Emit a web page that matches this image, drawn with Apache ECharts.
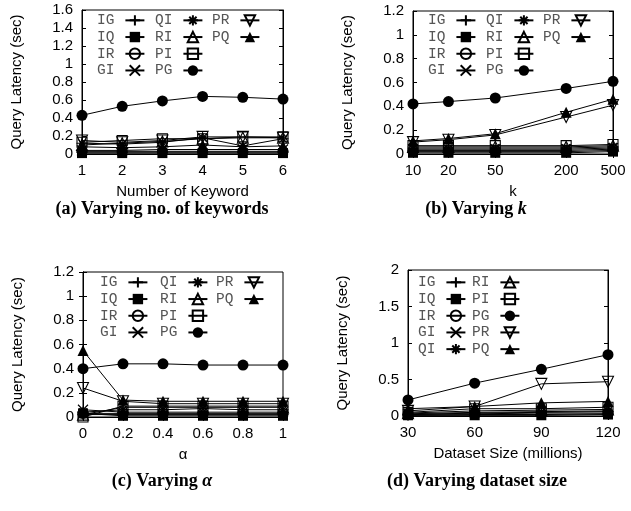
<!DOCTYPE html>
<html>
<head>
<meta charset="utf-8">
<script src="https://cdn.jsdelivr.net/npm/echarts@6/dist/echarts.min.js"></script>
<style>
html,body{margin:0;padding:0;background:#fff;}
#chart{width:631px;height:511px;}
</style>
</head>
<body>
<div id="chart"></div>
<script>
// ---------- data ----------
const seriesNames = ['IG','IQ','IR','GI','QI','RI','PI','PG','PR','PQ'];

// (a) Varying number of keywords
const keywordCounts = [1, 2, 3, 4, 5, 6];
const kwIG = [0.02, 0.02, 0.02, 0.02, 0.02, 0.02];
const kwIQ = [0.01, 0.01, 0.01, 0.01, 0.01, 0.01];
const kwIR = [0.03, 0.03, 0.03, 0.03, 0.03, 0.03];
const kwGI = [0.04, 0.04, 0.05, 0.05, 0.05, 0.05];
const kwQI = [0.12, 0.11, 0.13, 0.18, 0.09, 0.17];
const kwRI = [0.10, 0.12, 0.14, 0.17, 0.18, 0.18];
const kwPI = [0.13, 0.15, 0.17, 0.17, 0.19, 0.19];
const kwPG = [0.43, 0.53, 0.59, 0.64, 0.63, 0.61];
const kwPR = [0.15, 0.13, 0.15, 0.19, 0.19, 0.18];
const kwPQ = [0.08, 0.07, 0.08, 0.10, 0.08, 0.09];

// (b) Varying k
const kValues = [10, 20, 50, 200, 500];
const kIG = [0.02, 0.02, 0.02, 0.02, 0.03];
const kIQ = [0.01, 0.01, 0.01, 0.01, 0.02];
const kIR = [0.03, 0.03, 0.03, 0.03, 0.04];
const kGI = [0.04, 0.04, 0.04, 0.04, 0.05];
const kQI = [0.05, 0.05, 0.05, 0.05, 0.06];
const kRI = [0.06, 0.06, 0.06, 0.06, 0.07];
const kPI = [0.07, 0.07, 0.07, 0.07, 0.08];
const kPG = [0.42, 0.44, 0.47, 0.55, 0.61];
const kPR = [0.10, 0.12, 0.16, 0.31, 0.41];
const kPQ = [0.11, 0.13, 0.17, 0.35, 0.46];
const kTicks = [10, 20, 50, 200, 500];

// (c) Varying alpha
const alphaValues = [0, 0.2, 0.4, 0.6, 0.8, 1];
const alIG = [0.02, 0.02, 0.02, 0.02, 0.02, 0.02];
const alIQ = [0.03, 0.01, 0.01, 0.01, 0.01, 0.01];
const alIR = [0.03, 0.03, 0.03, 0.03, 0.03, 0.03];
const alGI = [0.06, 0.04, 0.04, 0.04, 0.04, 0.04];
const alQI = [0.04, 0.06, 0.06, 0.07, 0.06, 0.06];
const alRI = [0.02, 0.08, 0.08, 0.08, 0.08, 0.08];
const alPI = [0.00, 0.09, 0.09, 0.09, 0.09, 0.09];
const alPG = [0.40, 0.44, 0.44, 0.43, 0.43, 0.43];
const alPR = [0.24, 0.13, 0.11, 0.11, 0.11, 0.11];
const alPQ = [0.55, 0.14, 0.13, 0.13, 0.13, 0.13];

// (d) Varying dataset size (millions)
const datasetSizes = [30, 60, 90, 120];
const dsIG = [0.01, 0.02, 0.02, 0.03];
const dsIQ = [0.01, 0.01, 0.01, 0.02];
const dsIR = [0.02, 0.03, 0.04, 0.04];
const dsGI = [0.03, 0.05, 0.06, 0.07];
const dsQI = [0.02, 0.04, 0.05, 0.06];
const dsRI = [0.04, 0.07, 0.08, 0.09];
const dsPI = [0.05, 0.10, 0.10, 0.12];
const dsPG = [0.22, 0.45, 0.64, 0.84];
const dsPR = [0.07, 0.13, 0.44, 0.47];
const dsPQ = [0.10, 0.13, 0.18, 0.20];

// ---------- styling ----------
const SANS = 'Liberation Sans';
const MONO = 'Liberation Mono';
const SERIF = 'Liberation Serif';

const STROKE = {color:'#000', borderColor:'#000', borderWidth:1.1};
const OPEN = {color:'rgba(255,255,255,0)', borderColor:'#000', borderWidth:1.1};
const FILLED = {color:'#000', borderColor:'#000', borderWidth:0};
const markers = {
  IG: {symbol:'path://M5,0V10M0,5H10', size:11, style:STROKE},
  IQ: {symbol:'rect', size:10, style:FILLED},
  IR: {symbol:'circle', size:10, style:OPEN},
  GI: {symbol:'path://M0,0L10,10M0,10L10,0', size:10, style:STROKE},
  QI: {symbol:'path://M5,0V10M0,5H10M1.5,1.5L8.5,8.5M1.5,8.5L8.5,1.5', size:11, style:STROKE},
  RI: {symbol:'triangle', size:11, style:OPEN},
  PI: {symbol:'rect', size:10, style:OPEN},
  PG: {symbol:'circle', size:11, style:FILLED},
  PR: {symbol:'path://M0,0H10L5,8.66Z', size:11, style:OPEN},
  PQ: {symbol:'triangle', size:11, style:FILLED}
};

const panels = [
  {x: keywordCounts, vals:{IG:kwIG,IQ:kwIQ,IR:kwIR,GI:kwGI,QI:kwQI,RI:kwRI,PI:kwPI,PG:kwPG,PR:kwPR,PQ:kwPQ}},
  {x: kValues, vals:{IG:kIG,IQ:kIQ,IR:kIR,GI:kGI,QI:kQI,RI:kRI,PI:kPI,PG:kPG,PR:kPR,PQ:kPQ}},
  {x: alphaValues, vals:{IG:alIG,IQ:alIQ,IR:alIR,GI:alGI,QI:alQI,RI:alRI,PI:alPI,PG:alPG,PR:alPR,PQ:alPQ}},
  {x: datasetSizes, vals:{IG:dsIG,IQ:dsIQ,IR:dsIR,GI:dsGI,QI:dsQI,RI:dsRI,PI:dsPI,PG:dsPG,PR:dsPR,PQ:dsPQ}}
];

const grids = [
  {left:82, top:10, width:201, height:144},
  {left:413, top:11, width:200, height:143},
  {left:83, top:272, width:200, height:145},
  {left:408, top:270, width:200, height:146}
];

const yRanges = [
  {min:0, max:1.6, interval:0.2},
  {min:0, max:1.2, interval:0.2},
  {min:0, max:1.2, interval:0.2},
  {min:0, max:2, interval:0.5}
];

const xDefs = [
  {type:'value', min:1, max:6, interval:1, name:'Number of Keyword'},
  {type:'log', logBase:10, min:10, max:500, name:'k', custom:kTicks},
  {type:'value', min:0, max:1, interval:0.2, name:'α'},
  {type:'value', min:30, max:120, interval:30, name:'Dataset Size (millions)'}
];

const labelFont = {fontFamily:SANS, fontSize:15, color:'#000'};
const tick = {show:true, inside:true, length:4, lineStyle:{color:'#000', width:1}};
const axisLine = {show:true, lineStyle:{color:'#000', width:1}};

const xAxes = [], yAxes = [];
xDefs.forEach((d, i) => {
  const base = {gridIndex:i, type:d.type, min:d.min, max:d.max, axisLine, splitLine:{show:false}};
  if (d.type === 'log') base.logBase = d.logBase; else base.interval = d.interval;
  const main = Object.assign({}, base, {
    position:'bottom', name:d.name, nameLocation:'middle', nameGap:30,
    nameTextStyle:{fontFamily:SANS, fontSize:15, color:'#000'},
    axisTick:Object.assign({}, tick), axisLabel:Object.assign({margin:9}, labelFont)
  });
  if (d.custom) {
    main.axisTick.customValues = d.custom;
    main.axisLabel.customValues = d.custom;
  }
  const mirror = Object.assign({}, base, {
    position:'top', axisTick:Object.assign({}, tick), axisLabel:{show:false}
  });
  if (d.custom) mirror.axisTick.customValues = d.custom;
  xAxes.push(main, mirror);
});
yRanges.forEach((r, i) => {
  const base = {gridIndex:i, type:'value', min:r.min, max:r.max, interval:r.interval, axisLine, splitLine:{show:false}};
  yAxes.push(Object.assign({}, base, {
    position:'left', name:'Query Latency (sec)', nameLocation:'middle', nameGap:58,
    nameTextStyle:{fontFamily:SANS, fontSize:15, color:'#000'},
    axisTick:tick, axisLabel:Object.assign({margin:9}, labelFont)
  }));
  yAxes.push(Object.assign({}, base, {position:'right', axisTick:tick, axisLabel:{show:false}}));
});

const series = [];
panels.forEach((p, i) => {
  seriesNames.forEach(n => {
    const m = markers[n];
    series.push({
      name:n, type:'line', xAxisIndex:i*2, yAxisIndex:i*2,
      data:p.x.map((xv, j) => [xv, p.vals[n][j]]),
      symbol:m.symbol, symbolSize:m.size, showAllSymbol:true,
      itemStyle:m.style, lineStyle:{color:'#000', width:1},
      emphasis:{disabled:true}, animation:false
    });
  });
});

function legendCols(cols, lefts, top) {
  return cols.map((names, c) => ({
    data:names, orient:'vertical', left:lefts[c], top:top, align:'right',
    padding:0, itemWidth:19, itemHeight:13, itemGap:0, selectedMode:false,
    textStyle:{fontFamily:MONO, fontSize:14.5, color:'#555', lineHeight:16.7, padding:[0,6,0,0]}
  }));
}
const legendA = [['IG','IQ','IR','GI'],['QI','RI','PI','PG'],['PR','PQ']];
const legendD = [['IG','IQ','IR','GI','QI'],['RI','PI','PG','PR','PQ']];
const legends = [].concat(
  legendCols(legendA, [97,155,212], 12),
  legendCols(legendA, [428,486,543], 12),
  legendCols(legendA, [100,160,216], 274),
  legendCols(legendD, [418,472], 274)
);

const captions = [
  {x:162, y:209, text:'(a) Varying no. of keywords'},
  {x:476, y:209, text:'(b) Varying {i|k}'},
  {x:162, y:481, text:'(c) Varying {i|α}'},
  {x:477, y:481, text:'(d) Varying dataset size'}
];
const graphics = captions.map(c => ({
  type:'text', x:c.x, y:c.y,
  style:{text:c.text, align:'center', verticalAlign:'middle',
    font:'bold 18px "' + SERIF + '"', fill:'#000',
    rich:{i:{fontStyle:'italic', fontWeight:'bold', fontFamily:SERIF, fontSize:18, fill:'#000'}}}
}));

const chart = echarts.init(document.getElementById('chart'), null, {renderer:'canvas'});
chart.setOption({
  backgroundColor:'#fff',
  animation:false,
  grid:grids.map(g => Object.assign({show:true, borderColor:'#000', borderWidth:1, backgroundColor:'transparent'}, g)),
  xAxis:xAxes,
  yAxis:yAxes,
  legend:legends,
  series:series,
  graphic:graphics
});
</script>
</body>
</html>
